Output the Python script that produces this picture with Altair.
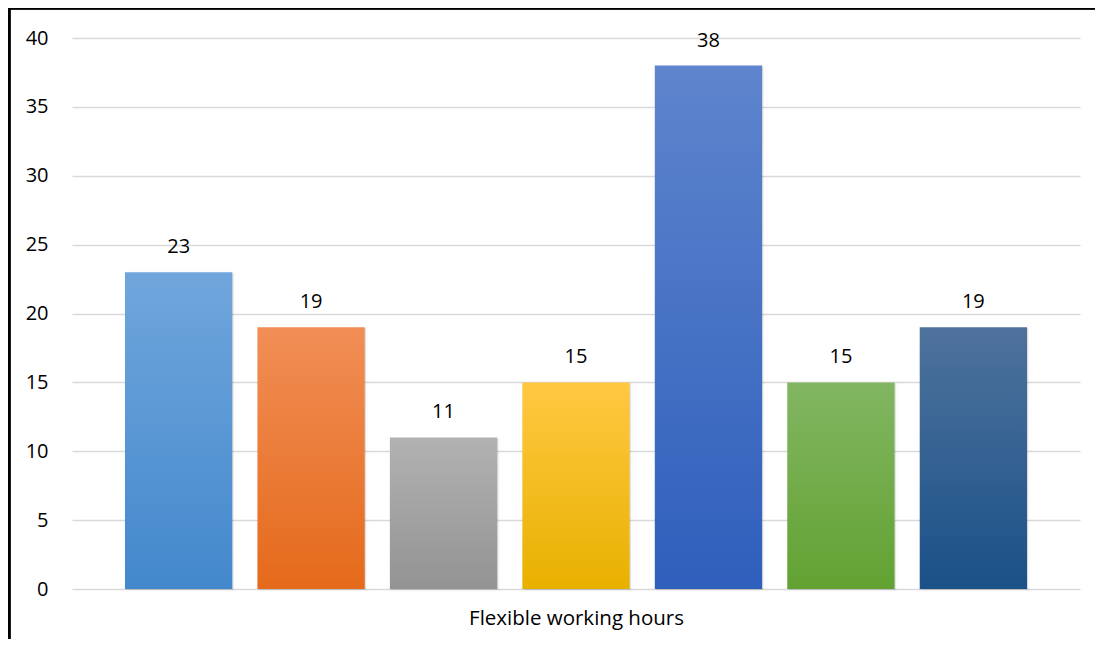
import altair as alt
import pandas as pd

categories = ["Series 1", "Series 2", "Series 3", "Series 4", "Series 5", "Series 6", "Series 7"]
values = [23, 19, 11, 15, 38, 15, 19]
y_ticks = [0, 5, 10, 15, 20, 25, 30, 35, 40]
x_title = "Flexible working hours"

top_colors = ["#70A6DC", "#F18E56", "#B2B2B2", "#FFC842", "#5E85CD", "#82B662", "#4E729C"]
bottom_colors = ["#4388CC", "#E56A1B", "#939393", "#E8B100", "#2F5FBC", "#62A232", "#1A5188"]

df = pd.DataFrame({"cat": categories, "val": values})
FONT = "Open Sans"

x_enc = alt.X("cat:N", sort=categories,
              scale=alt.Scale(domain=categories, paddingInner=0.19, paddingOuter=0.40),
              axis=alt.Axis(labels=False, ticks=False, domain=False, grid=False, title=x_title,
                            titleFont=FONT, titleFontSize=20.5, titleFontWeight="normal",
                            titleColor="#000000", titlePadding=19))
y_enc = alt.Y("val:Q", scale=alt.Scale(domain=[0, 40], nice=False),
              axis=alt.Axis(values=y_ticks, grid=True, gridColor="#D9D9D9", gridWidth=1.5,
                            domain=False, ticks=False, labelFont=FONT, labelFontSize=20,
                            labelColor="#000000", labelPadding=24, title=None))

base = alt.Chart(df)

shadow1 = base.mark_bar(color="#000000", opacity=0.05, stroke="#000000", strokeWidth=7,
                        strokeOpacity=0.05, xOffset=1.5, yOffset=1).encode(x=x_enc, y=y_enc)
shadow2 = base.mark_bar(color="#000000", opacity=0.08, stroke="#000000", strokeWidth=3,
                        strokeOpacity=0.08, xOffset=1, yOffset=1).encode(x=x_enc, y=y_enc)

layers = [shadow1, shadow2]
for cat, tc, bc in zip(categories, top_colors, bottom_colors):
    grad = alt.LinearGradient(gradient="linear",
                              stops=[alt.GradientStop(color=tc, offset=0),
                                     alt.GradientStop(color=bc, offset=1)],
                              x1=0, x2=0, y1=0, y2=1)
    layers.append(
        base.transform_filter(alt.datum.cat == cat)
        .mark_bar(color=grad)
        .encode(x=x_enc, y=y_enc)
    )

labels = base.mark_text(font=FONT, fontSize=20, color="#000000", baseline="middle",
                        dy=-25).encode(x=x_enc, y=y_enc, text=alt.Text("val:Q"))
layers.append(labels)

border_left = alt.Chart(df).mark_rule(color="#000000", strokeWidth=2.5).encode(
    x=alt.value(-63), y=alt.value(-31), y2=alt.value(620))
border_top = alt.Chart(df).mark_rule(color="#000000", strokeWidth=2.5).encode(
    x=alt.value(-64), x2=alt.value(1023), y=alt.value(-30))
layers += [border_left, border_top]

chart = alt.layer(*layers).properties(
    width=1008, height=551,
    autosize=alt.AutoSizeParams(type="none"),
    padding={"left": 64, "top": 30, "right": 15, "bottom": 50},
    background="#FFFFFF",
).configure_view(strokeWidth=0, stroke="transparent")

chart.save("out.html", embed_options={"renderer": "svg", "actions": False})
